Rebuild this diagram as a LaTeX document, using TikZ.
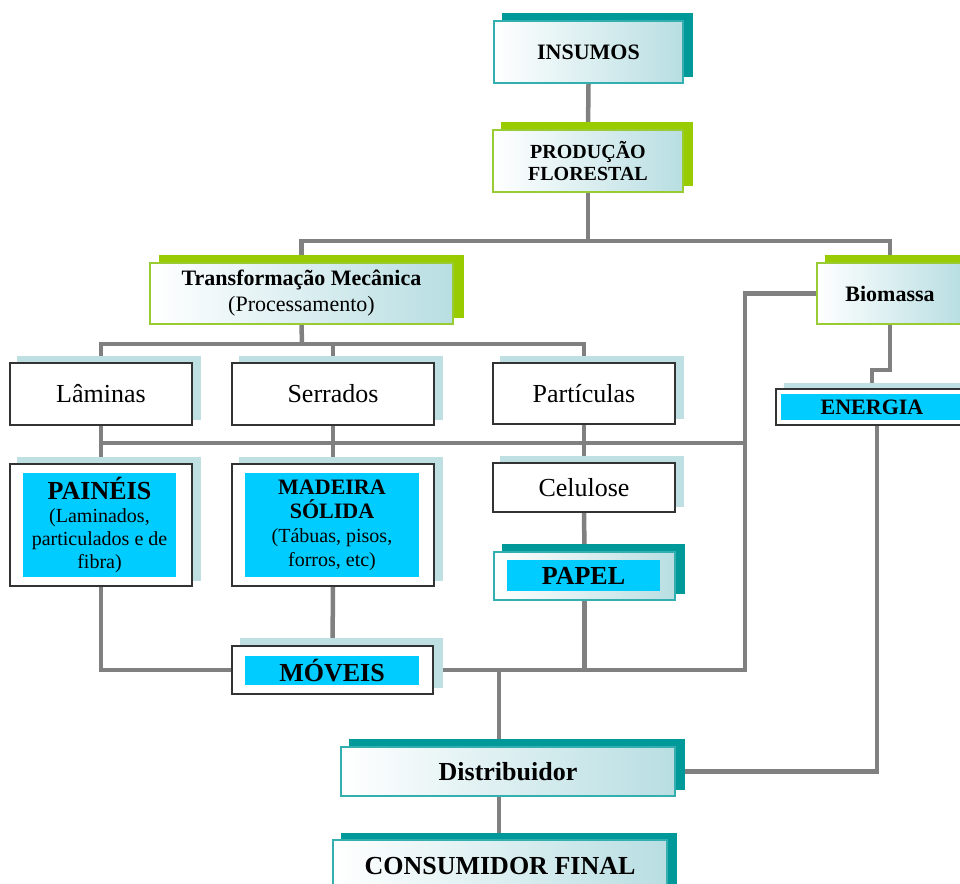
\documentclass[tikz,border=0pt]{standalone}
\usepackage{fontspec}
\setmainfont{Liberation Serif}
\pgfdeclarelayer{lines}
\pgfdeclarelayer{shadows}
\pgfsetlayers{lines,shadows,main}
\definecolor{connC}{HTML}{808080}
\definecolor{tealS}{HTML}{009999}
\definecolor{tealB}{HTML}{33AFAF}
\definecolor{greenS}{HTML}{99CC00}
\definecolor{greenB}{HTML}{99CC33}
\definecolor{blueS}{HTML}{BEE0E3}
\definecolor{cyanF}{HTML}{00CCFF}
\definecolor{gradC}{HTML}{B8DEE2}
\definecolor{boxB}{HTML}{333333}
\newcommand\shad[4]{\fill[#2] ([shift={(#3pt,#4pt)}]#1.south west) rectangle ([shift={(#3pt,#4pt)}]#1.north east);}
\tikzset{
  basebox/.style={rectangle, inner sep=0pt, align=center, line width=1.5pt},
  gbox/.style={basebox, draw=greenB, left color=white, middle color=white, right color=gradC},
  tbox/.style={basebox, draw=tealB, left color=white, middle color=white, right color=gradC},
  wbox/.style={basebox, draw=boxB, fill=white},
  cbox/.style={rectangle, inner sep=0pt, fill=cyanF, align=center},
  link/.style={draw=connC, line width=4.5pt},
  fbig/.style={font={\fontsize{26}{28}\selectfont\bfseries}},
  fmid/.style={font={\fontsize{22}{24}\selectfont\bfseries}},
  freg/.style={font={\fontsize{26}{28}\selectfont}},
}
\begin{document}
\begin{tikzpicture}[x=1pt,y=-1pt]
\useasboundingbox (0,0) rectangle (960,883);
% nodes
\node[tbox, fmid, minimum width=189pt, minimum height=62pt] (ins) at (588.5,52) {INSUMOS};
\node[gbox, font={\fontsize{20}{22.5}\selectfont\bfseries}, minimum width=190pt, minimum height=62pt] (prod) at (588,161) {PRODUÇÃO\\FLORESTAL};
\node[gbox, font={\fontsize{22}{26}\selectfont}, minimum width=303pt, minimum height=61pt] (trans) at (301.5,293.5) {{\bfseries Transformação Mecânica}\\(Processamento)};
\node[gbox, fmid, minimum width=146pt, minimum height=61pt] (bio) at (890,293.5) {Biomassa};
\node[wbox, minimum width=192pt, minimum height=36pt] (ene) at (872,407) {};
\node[cbox, fmid, minimum width=182pt, minimum height=26pt] (eneT) at (ene.center) {ENERGIA};
\node[wbox, freg, minimum width=182pt, minimum height=62pt] (lam) at (101,394) {Lâminas};
\node[wbox, freg, minimum width=202pt, minimum height=62pt] (serr) at (333,394) {Serrados};
\node[wbox, freg, minimum width=182pt, minimum height=61pt] (part) at (584,393.5) {Partículas};
\node[wbox, freg, minimum width=182pt, minimum height=49pt] (cel) at (584,487.5) {Celulose};
\node[tbox, minimum width=181pt, minimum height=48pt] (pap) at (584.5,576) {};
\node[cbox, fbig, minimum width=153pt, minimum height=31pt] (papT) at (583.5,575.5) {PAPEL};
\node[wbox, minimum width=182pt, minimum height=122pt] (pain) at (101,525) {};
\node[cbox, font={\fontsize{20}{23}\selectfont}, minimum width=153pt, minimum height=104pt] (painT) at (99.5,525) {{\fontsize{26}{26}\selectfont\bfseries PAINÉIS}\\(Laminados,\\particulados e de\\fibra)};
\node[wbox, minimum width=202pt, minimum height=122pt] (mad) at (333,525) {};
\node[cbox, font={\fontsize{20}{24}\selectfont}, minimum width=174pt, minimum height=104pt] (madT) at (332,525) {{\fontsize{22}{24}\selectfont\bfseries MADEIRA}\\{\fontsize{22}{24}\selectfont\bfseries SÓLIDA}\\(Tábuas, pisos,\\forros, etc)};
\node[wbox, minimum width=201pt, minimum height=48pt] (mov) at (332.5,670) {};
\node[cbox, fbig, minimum width=174pt, minimum height=29pt] (movT) at (332,670.5) {MÓVEIS};
\node[tbox, fbig, minimum width=334pt, minimum height=49pt] (dist) at (508,771.5) {Distribuidor};
\node[tbox, fbig, minimum width=334pt, minimum height=52pt] (cons) at (500,866) {CONSUMIDOR FINAL};
% shadows
\begin{pgfonlayer}{shadows}
\shad{ins}{tealS}{9}{7}
\shad{prod}{greenS}{9}{7}
\shad{trans}{greenS}{10}{7}
\shad{bio}{greenS}{9}{7}
\shad{ene}{blueS}{9}{5}
\shad{lam}{blueS}{8}{6}
\shad{serr}{blueS}{8}{6}
\shad{part}{blueS}{8}{6}
\shad{cel}{blueS}{8}{6}
\shad{pain}{blueS}{8}{6}
\shad{mad}{blueS}{8}{6}
\shad{mov}{blueS}{9}{7}
\shad{pap}{tealS}{9}{7}
\shad{dist}{tealS}{9}{7}
\shad{cons}{tealS}{9}{6}
\end{pgfonlayer}
% connectors
\begin{pgfonlayer}{lines}
\fill[white] (0,0) rectangle (960,883);
\coordinate (j1) at (588,241);
\coordinate (j2) at (302,344);
\coordinate (k1) at (745,443);
\coordinate (j5) at (499,670);
\coordinate (j6) at (890,370);
\draw[link] (ins.south) -- (prod.north);
\draw[link] (prod.south) -- (j1);
\draw[link] (trans.north) -- (trans.north |- j1) -- (bio.north |- j1) -- (bio.north);
\draw[link] (trans.south) -- (j2);
\draw[link] (lam.north) -- (lam.north |- j2) -- (part.north |- j2) -- (part.north);
\draw[link] (serr.north) -- (serr.north |- j2);
\draw[link] (lam.south) -- (pain.north);
\draw[link] (serr.south) -- (mad.north);
\draw[link] (part.south) -- (cel.north);
\draw[link] (lam.south |- k1) -- (k1);
\draw[link] (bio.west) -- (bio.west -| k1) -- (k1 |- mov.east) -- (mov.east);
\draw[link] (cel.south) -- (pap.north);
\draw[link] (pap.south) -- (pap.south |- mov.east);
\draw[link] (j5) -- (j5 |- dist.north);
\draw[link] (j5 |- dist.south) -- (j5 |- cons.north);
\draw[link] (pain.south) |- (mov.west);
\draw[link] (mad.south) -- (mov.north);
\draw[link] (bio.south) -- (j6) -- (j6 -| ene.north) -- (ene.north);
\draw[link] ([xshift=5pt]ene.south) |- (dist.east);
\end{pgfonlayer}
\end{tikzpicture}
\end{document}
